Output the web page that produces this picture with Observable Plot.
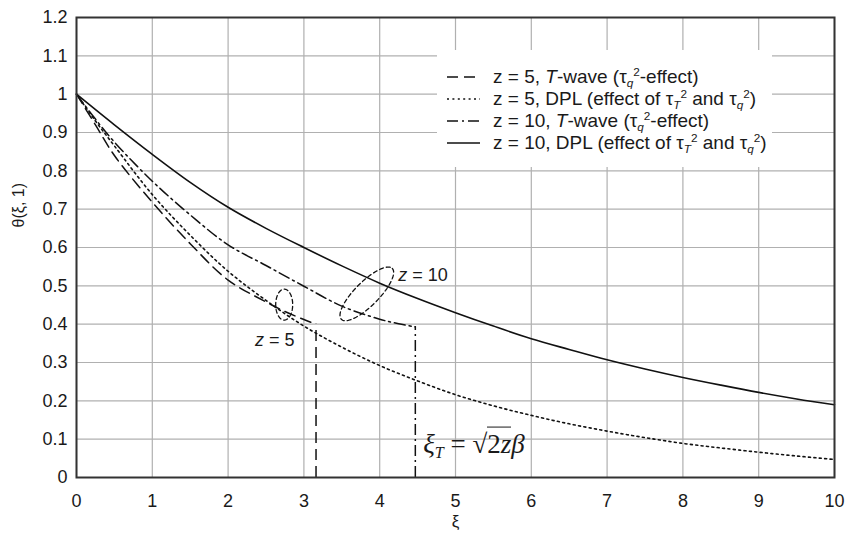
<!DOCTYPE html>
<html><head><meta charset="utf-8">
<script src="https://cdn.jsdelivr.net/npm/d3@7"></script>
<script src="https://cdn.jsdelivr.net/npm/@observablehq/plot@0.6"></script>
<style>
body{margin:0;background:#fff;}
#wrap{position:relative;width:845px;height:534px;font-family:"Liberation Sans",Arial,sans-serif;color:#1a1a1a;}
#wrap svg{display:block;}
.ov{position:absolute;white-space:nowrap;font-size:18px;line-height:1;}
#legend{position:absolute;background:#fff;font-size:19px;}
.row{display:flex;align-items:center;height:22px;}
.row svg{margin-right:13px;flex:none;}
.sub{font-size:0.62em;vertical-align:-0.3em;font-style:italic;}
.sup{font-size:0.62em;vertical-align:0.62em;}
.formula{font-family:"Liberation Serif","Times New Roman",serif;font-size:27px;}
.formula .fs{font-size:0.6em;vertical-align:-0.35em;font-style:italic;}
.formula .rad{border-top:1.3px solid #1a1a1a;padding-top:1px;}
</style></head><body><div id="wrap"></div>
<script>
// ---- data ----
const xTicks = [0,1,2,3,4,5,6,7,8,9,10];
const yTicks = [0,0.1,0.2,0.3,0.4,0.5,0.6,0.7,0.8,0.9,1.0,1.1,1.2];

// z = 5, T-wave (dashed)
const xiZ5T = [0,0.25,0.5,1,1.5,2,2.5,2.75,3,3.16];
const thZ5T = [1,0.92,0.84,0.718,0.61,0.515,0.458,0.433,0.412,0.40];
// z = 5, DPL (dotted)
const xiZ5D = [0,0.25,0.5,1,1.5,2,2.5,3,3.5,4,4.5,5,5.5,6,6.5,7,7.5,8,8.5,9,9.5,10];
const thZ5D = [1,0.93,0.865,0.738,0.632,0.538,0.462,0.395,0.34,0.292,0.252,0.216,0.187,0.162,0.14,0.121,0.104,0.089,0.077,0.066,0.056,0.047];
// z = 10, T-wave (dash-dot)
const xiZ10T = [0,0.25,0.5,1,1.5,2,2.5,3,3.5,4,4.25,4.47];
const thZ10T = [1,0.935,0.875,0.773,0.685,0.607,0.553,0.499,0.447,0.413,0.401,0.393];
// z = 10, DPL (solid)
const xiZ10D = [0,0.5,1,1.5,2,2.5,3,3.5,4,4.5,5,5.5,6,6.5,7,7.5,8,8.5,9,9.5,10];
const thZ10D = [1,0.92,0.843,0.77,0.705,0.65,0.60,0.552,0.507,0.467,0.43,0.395,0.362,0.334,0.307,0.283,0.261,0.241,0.222,0.205,0.19];

const legendLabels = [
  'z = 5, <i>T</i>-wave (τ<span class="sub">q</span><span class="sup">2</span>-effect)',
  'z = 5, DPL (effect of τ<span class="sub">T</span><span class="sup">2</span> and τ<span class="sub">q</span><span class="sup">2</span>)',
  'z = 10, <i>T</i>-wave (τ<span class="sub">q</span><span class="sup">2</span>-effect)',
  'z = 10, DPL (effect of τ<span class="sub">T</span><span class="sup">2</span> and τ<span class="sub">q</span><span class="sup">2</span>)'
];
const yLabel = "θ(ξ, 1)";
const xLabel = "ξ";

// annotations (data coordinates)
const annoHtml = ['<i>z</i> = 10', '<i>z</i> = 5'];
const annoX = [4.25, 2.36];
const annoY = [0.527, 0.357];
const formulaX = 4.58, formulaY = 0.082;
// ellipse annotations: centre in data coords, semi-axes in px, angle in degrees
const ellCx = [2.74, 3.83];
const ellCy = [0.451, 0.479];
const ellA = [15.5, 36];
const ellB = [8.5, 12];
const ellAng = [-90, -45];

// ---- layout ----
const W = 845, H = 534, ML = 76, MR = 11, MT = 17, MB = 57;
const kx = (W - ML - MR) / 10, ky = (H - MT - MB) / 1.2;
const ink = "#111";
const styles = [
  {dash: "11,6", w: 1.5},
  {dash: "2,3.4", w: 1.6},
  {dash: "11,4,2,4", w: 1.5},
  {dash: null, w: 1.6}
];

const toPts = (xs, ys) => xs.map((x, i) => ({x, y: ys[i]}));
const ellipses = [];
ellCx.forEach((cx, k) => {
  const phi = ellAng[k] * Math.PI / 180;
  for (let i = 0; i <= 90; i++) {
    const t = i / 90 * 2 * Math.PI;
    const u = ellA[k] * Math.cos(t), v = ellB[k] * Math.sin(t);
    const dx = u * Math.cos(phi) - v * Math.sin(phi);
    const dy = u * Math.sin(phi) + v * Math.cos(phi);
    ellipses.push({k, x: cx + dx / kx, y: ellCy[k] - dy / ky});
  }
});

const series = [
  {pts: toPts(xiZ5T, thZ5T), s: styles[0]},
  {pts: toPts(xiZ5D, thZ5D), s: styles[1]},
  {pts: toPts(xiZ10T, thZ10T), s: styles[2]},
  {pts: toPts(xiZ10D, thZ10D), s: styles[3]}
];
const drops = [
  {x: xiZ5T[xiZ5T.length-1], y: thZ5T[thZ5T.length-1], s: styles[0]},
  {x: xiZ10T[xiZ10T.length-1], y: thZ10T[thZ10T.length-1], s: styles[2]}
];

const yFmt = d => String(Math.round(d * 10) / 10);

const plot = Plot.plot({
  width: W, height: H,
  marginLeft: ML, marginRight: MR, marginTop: MT, marginBottom: MB,
  style: {fontFamily: '"Liberation Sans", Arial, sans-serif', fontSize: "18px", color: "#1a1a1a", background: "#fff"},
  x: {domain: [0, 10]},
  y: {domain: [0, 1.2]},
  marks: [
    Plot.gridX(xTicks, {stroke: "#b0b0b0", strokeOpacity: 1, strokeWidth: 1.2}),
    Plot.gridY(yTicks, {stroke: "#b0b0b0", strokeOpacity: 1, strokeWidth: 1.2}),
    ...series.map(d => Plot.line(d.pts, {x: "x", y: "y", stroke: ink, strokeWidth: d.s.w, strokeDasharray: d.s.dash, curve: "catmull-rom"})),
    ...drops.map(d => Plot.ruleX([d], {x: "x", y1: 0, y2: "y", stroke: ink, strokeWidth: d.s.w, strokeDasharray: d.s.dash})),
    Plot.line(ellipses, {x: "x", y: "y", z: "k", stroke: ink, strokeWidth: 1.3, strokeDasharray: "4,3", curve: "linear"}),
    Plot.frame({stroke: "#333", strokeWidth: 2}),
    Plot.axisX(xTicks, {tickSize: 0, tickPadding: 17, label: null, fontSize: 18}),
    Plot.axisY(yTicks, {tickSize: 0, tickPadding: 9, label: null, tickFormat: yFmt, fontSize: 18}),
    Plot.text([xLabel], {frameAnchor: "bottom", dy: 49, fontSize: 17}),
    Plot.text([yLabel], {frameAnchor: "left", rotate: -90, dx: -58, dy: -20, fontSize: 16})
  ]
});

const wrap = document.getElementById("wrap");
wrap.appendChild(plot);
const sx = plot.scale("x"), sy = plot.scale("y");

// legend
const leg = document.createElement("div");
leg.id = "legend";
Object.assign(leg.style, {left: "437px", top: "50px", width: "335px", height: "117px", paddingTop: "16px", boxSizing: "border-box"});
legendLabels.forEach((lab, i) => {
  const row = document.createElement("div");
  row.className = "row";
  const st = styles[i];
  row.innerHTML = `<svg width="43" height="22" style="margin-left:0"><line x1="10" x2="43" y1="11" y2="11" stroke="${ink}" stroke-width="${st.w}" ${st.dash ? `stroke-dasharray="${st.dash}"` : ""}/></svg><span>${lab}</span>`;
  leg.appendChild(row);
});
wrap.appendChild(leg);

// annotations
annoHtml.forEach((h, i) => {
  const d = document.createElement("div");
  d.className = "ov";
  d.innerHTML = h;
  d.style.left = sx.apply(annoX[i]) + "px";
  d.style.top = sy.apply(annoY[i]) + "px";
  d.style.transform = "translateY(-50%)";
  wrap.appendChild(d);
});
const f = document.createElement("div");
f.className = "ov formula";
f.innerHTML = '<i>ξ</i><span class="fs">T</span> = √<span class="rad">2<i>z</i></span><i>β</i>';
f.style.left = sx.apply(formulaX) + "px";
f.style.top = sy.apply(formulaY) + "px";
f.style.transform = "translateY(-50%)";
wrap.appendChild(f);
</script>
</body></html>
